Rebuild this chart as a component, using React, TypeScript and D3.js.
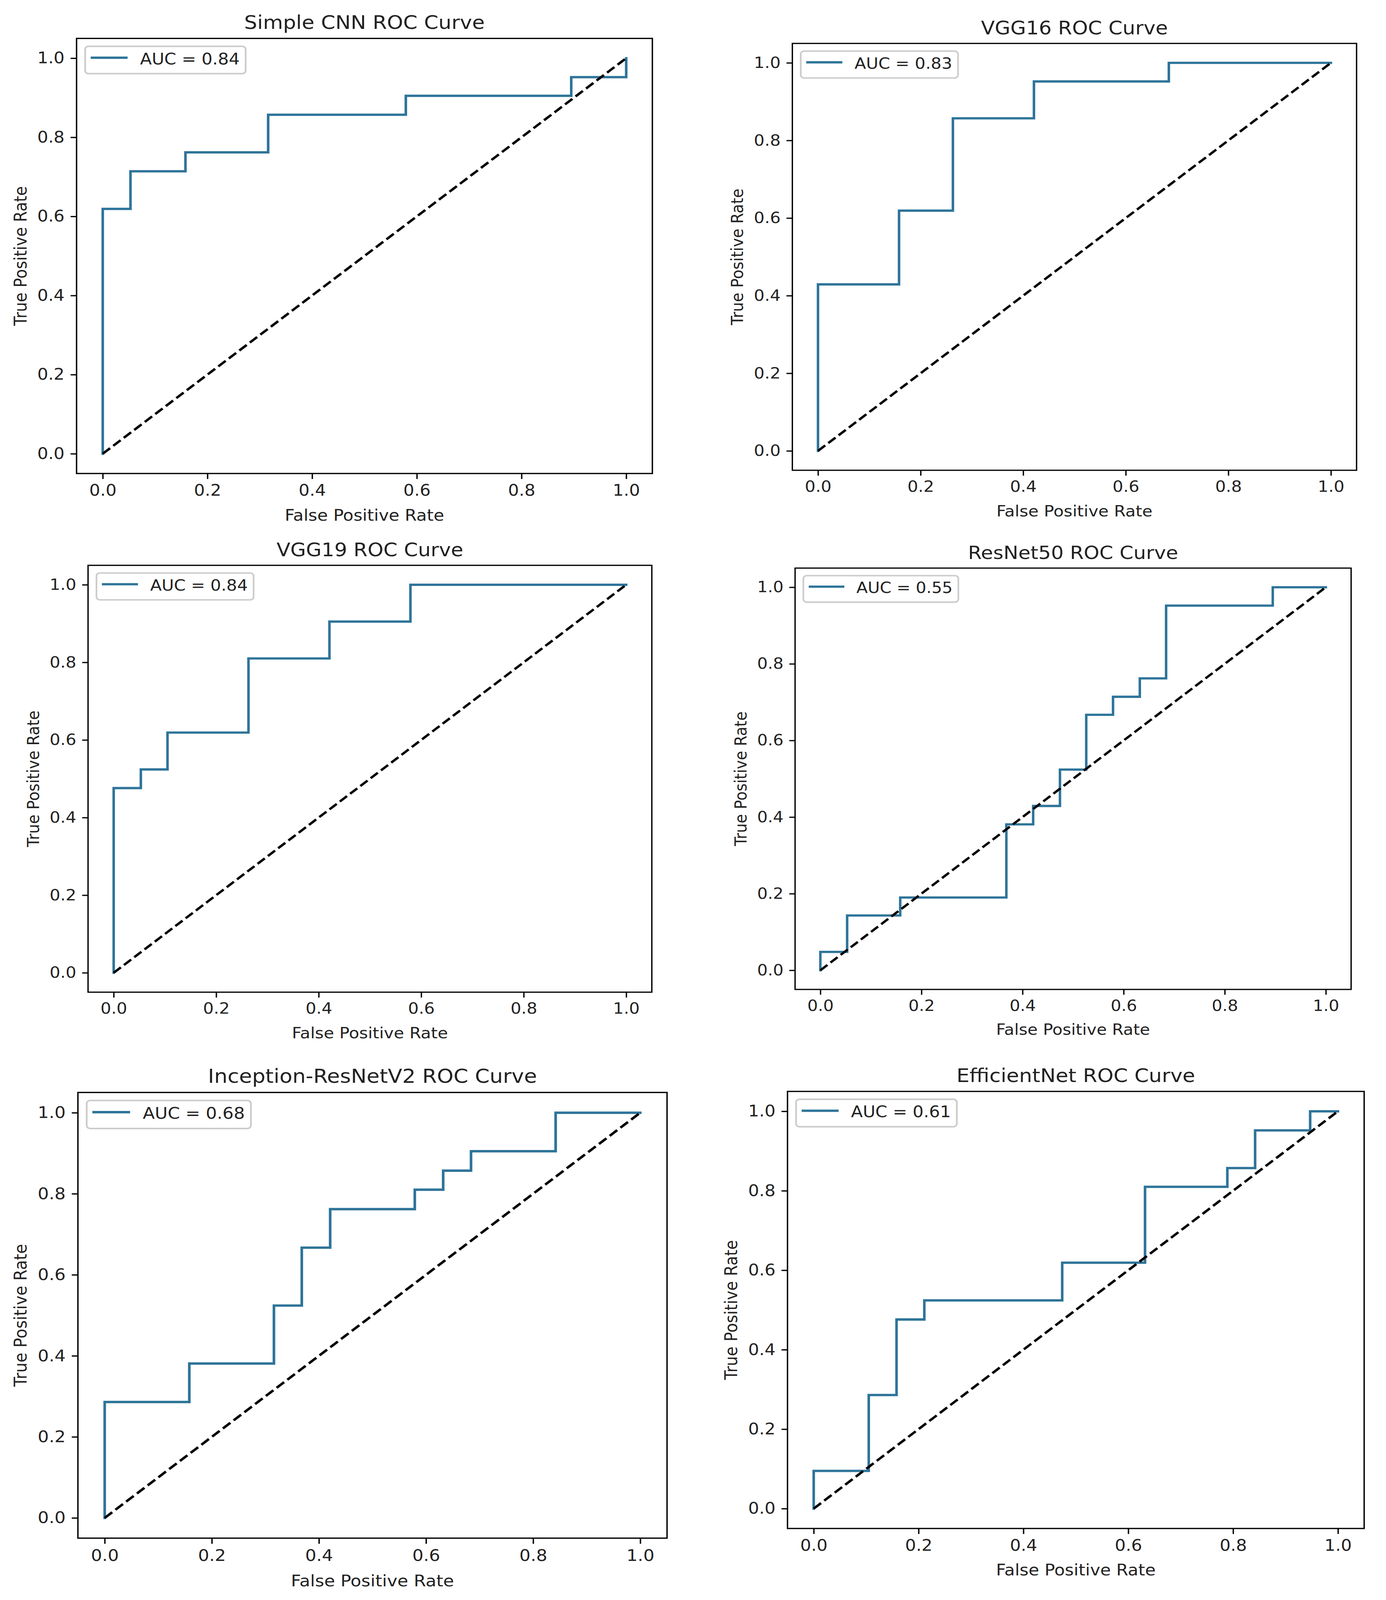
import * as d3 from "d3";
import { useEffect, useRef } from "react";

const W = 3548;
const H = 4482;

// --- data (sklearn-style ROC corner points) ---
const titles = [
    "Simple CNN ROC Curve",
    "VGG16 ROC Curve",
    "VGG19 ROC Curve",
    "ResNet50 ROC Curve",
    "Inception-ResNetV2 ROC Curve",
    "EfficientNet ROC Curve",
];
const aucLabels = ["AUC = 0.84", "AUC = 0.83", "AUC = 0.84", "AUC = 0.55", "AUC = 0.68", "AUC = 0.61"];

const cnnFpr = [0, 0, 0.053, 0.158, 0.316, 0.579, 0.895, 1.0];
const cnnTpr = [0, 0.619, 0.714, 0.762, 0.857, 0.905, 0.952, 1.0];

const vgg16Fpr = [0, 0, 0.158, 0.263, 0.421, 0.684, 1.0];
const vgg16Tpr = [0, 0.429, 0.619, 0.857, 0.952, 1.0, 1.0];

const vgg19Fpr = [0, 0, 0.053, 0.105, 0.263, 0.421, 0.579, 1.0];
const vgg19Tpr = [0, 0.476, 0.524, 0.619, 0.81, 0.905, 1.0, 1.0];

const resnetFpr = [0, 0, 0.053, 0.158, 0.368, 0.421, 0.474, 0.526, 0.579, 0.632, 0.684, 0.895, 1.0];
const resnetTpr = [0, 0.048, 0.143, 0.19, 0.381, 0.429, 0.524, 0.667, 0.714, 0.762, 0.952, 1.0, 1.0];

const inceptionFpr = [0, 0, 0.158, 0.316, 0.368, 0.421, 0.579, 0.632, 0.684, 0.842, 1.0];
const inceptionTpr = [0, 0.286, 0.381, 0.524, 0.667, 0.762, 0.81, 0.857, 0.905, 1.0, 1.0];

const effFpr = [0, 0, 0.105, 0.158, 0.211, 0.474, 0.632, 0.789, 0.842, 0.947, 1.0];
const effTpr = [0, 0.095, 0.286, 0.476, 0.524, 0.619, 0.81, 0.857, 0.952, 1.0, 1.0];

const tickValues = [0, 0.2, 0.4, 0.6, 0.8, 1.0];

const curves = [
    { fpr: cnnFpr, tpr: cnnTpr },
    { fpr: vgg16Fpr, tpr: vgg16Tpr },
    { fpr: vgg19Fpr, tpr: vgg19Tpr },
    { fpr: resnetFpr, tpr: resnetTpr },
    { fpr: inceptionFpr, tpr: inceptionTpr },
    { fpr: effFpr, tpr: effTpr },
];

// where each panel's 0..1 range sits on the page (the panels were pasted, so they differ a bit)
const frames = [
    { x0: 263, x1: 1603, y0: 1271, y1: 163 },
    { x0: 2094, x1: 3407, y0: 1263, y1: 176 },
    { x0: 291, x1: 1603, y0: 2725, y1: 1638 },
    { x0: 2100, x1: 3394, y0: 2718, y1: 1645 },
    { x0: 268, x1: 1639, y0: 4252, y1: 3117 },
    { x0: 2083, x1: 3425, y0: 4226, y1: 3113 },
];

const lineColor = "#2e7499";
const textColor = "#222";

function App() {
    const ref = useRef<SVGSVGElement>(null);
    // the viewport is shorter than the figure, so squeeze it to fit
    const viewH = Math.min(H, typeof window !== "undefined" ? window.innerHeight : H);

    useEffect(() => {
        document.body.style.margin = "0";

        const svg = d3.select(ref.current);
        svg.selectAll("*").remove();

        svg.append("rect").attr("width", W).attr("height", H).attr("fill", "white");

        frames.forEach((f, i) => {
            // px per point for this panel
            const pt = (4.39 * (f.x1 - f.x0)) / 1340;
            const fs = 10 * pt;

            const x = d3.scaleLinear().domain([0, 1]).range([f.x0, f.x1]);
            const y = d3.scaleLinear().domain([0, 1]).range([f.y0, f.y1]);
            const left = x(-0.05), right = x(1.05);
            const top = y(1.05), bottom = y(-0.05);

            const g = svg.append("g").style("font-family", "'DejaVu Sans', sans-serif");

            // ROC curve
            const pts = d3.zip(curves[i].fpr, curves[i].tpr) as [number, number][];
            const line = d3.line<[number, number]>()
                .x(d => x(d[0]))
                .y(d => y(d[1]))
                .curve(d3.curveStepAfter);
            g.append("path")
                .datum(pts)
                .attr("d", line)
                .attr("fill", "none")
                .attr("stroke", lineColor)
                .attr("stroke-width", 1.5 * pt)
                .attr("stroke-linecap", "square");

            // chance line
            g.append("path")
                .datum([[0, 0], [1, 1]] as [number, number][])
                .attr("d", d3.line<[number, number]>().x(d => x(d[0])).y(d => y(d[1])))
                .attr("fill", "none")
                .attr("stroke", "black")
                .attr("stroke-width", 1.5 * pt)
                .attr("stroke-dasharray", `${5.55 * pt},${2.4 * pt}`);

            // spines
            g.append("rect")
                .attr("x", left).attr("y", top)
                .attr("width", right - left).attr("height", bottom - top)
                .attr("fill", "none")
                .attr("stroke", "black")
                .attr("stroke-width", 0.8 * pt);

            // axes
            const fmt = d3.format(".1f");
            const xAxis = d3.axisBottom(x).tickValues(tickValues).tickFormat(d => fmt(d as number))
                .tickSize(3.5 * pt).tickPadding(3.5 * pt).tickSizeOuter(0);
            const yAxis = d3.axisLeft(y).tickValues(tickValues).tickFormat(d => fmt(d as number))
                .tickSize(3.5 * pt).tickPadding(3.5 * pt).tickSizeOuter(0);

            [
                g.append("g").attr("transform", `translate(0,${bottom})`).call(xAxis),
                g.append("g").attr("transform", `translate(${left},0)`).call(yAxis),
            ].forEach(a => {
                a.select(".domain").remove();
                a.attr("font-family", null).attr("font-size", null);
                a.selectAll("line").attr("stroke", "black").attr("stroke-width", 0.8 * pt);
                a.selectAll("text").attr("fill", textColor).style("font-size", `${fs}px`);
            });

            // title
            g.append("text")
                .attr("x", (left + right) / 2)
                .attr("y", top - 6 * pt)
                .attr("text-anchor", "middle")
                .attr("fill", textColor)
                .style("font-size", `${12 * pt}px`)
                .text(titles[i]);

            // axis labels
            g.append("text")
                .attr("x", (left + right) / 2)
                .attr("y", bottom + 11 * pt + 1.9 * fs)
                .attr("text-anchor", "middle")
                .attr("fill", textColor)
                .style("font-size", `${fs}px`)
                .text("False Positive Rate");

            const ylx = left - 11 * pt - 1.59 * fs - 0.236 * fs;
            const yly = (top + bottom) / 2;
            g.append("text")
                .attr("transform", `translate(${ylx},${yly}) rotate(-90)`)
                .attr("text-anchor", "middle")
                .attr("fill", textColor)
                .style("font-size", `${fs}px`)
                .text("True Positive Rate");

            // legend
            const lx = left + 0.5 * fs;
            const ly = top + 0.5 * fs;
            g.append("rect")
                .attr("x", lx).attr("y", ly)
                .attr("width", 9.36 * fs).attr("height", 1.75 * fs)
                .attr("rx", 0.2 * fs)
                .attr("fill", "white").attr("fill-opacity", 0.8)
                .attr("stroke", "#cccccc")
                .attr("stroke-width", 1 * pt);
            g.append("line")
                .attr("x1", lx + 0.4 * fs).attr("x2", lx + 2.4 * fs)
                .attr("y1", ly + 0.73 * fs).attr("y2", ly + 0.73 * fs)
                .attr("stroke", lineColor)
                .attr("stroke-width", 1.5 * pt)
                .attr("stroke-linecap", "square");
            g.append("text")
                .attr("x", lx + 3.2 * fs)
                .attr("y", ly + 1.15 * fs)
                .attr("fill", textColor)
                .style("font-size", `${fs}px`)
                .text(aucLabels[i]);
        });
    }, []);

    return (
        <svg
            ref={ref}
            width={W}
            height={viewH}
            viewBox={`0 0 ${W} ${H}`}
            preserveAspectRatio="none"
            style={{ display: "block" }}
        />
    );
}

export default App;
